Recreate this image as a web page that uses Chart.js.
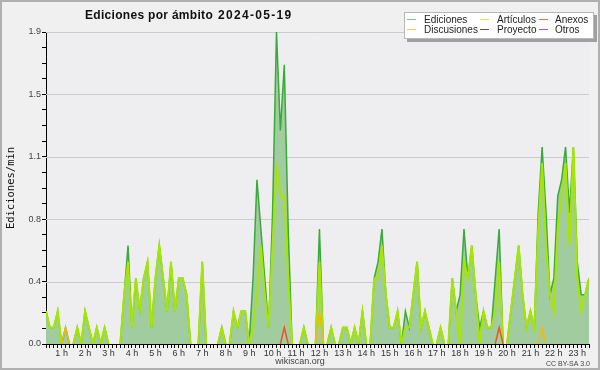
<!DOCTYPE html>
<html>
<head>
<meta charset="utf-8">
<script src="https://cdn.jsdelivr.net/npm/chart.js@4"></script>
<style>
  html, body { margin: 0; padding: 0; background: #f0f0f0; }
  canvas { display: block; }
</style>
</head>
<body>
<canvas id="chart" width="600" height="370"></canvas>
<script>
// samples every 10 minutes, first one at 00:20 (edits per minute)
const startMinute = 20;
const stepMinutes = 10;

const ediciones = [
  0.2, 0.1, 0.1, 0.2, 0.0, 0.1, 0.0, 0.0, 0.1, 0.0,
  0.2, 0.1, 0.0, 0.1, 0.0, 0.1, 0.0, 0.0, 0.0, 0.0,
  0.3, 0.6, 0.1, 0.4, 0.2, 0.4, 0.5, 0.1, 0.4, 0.6,
  0.4, 0.2, 0.5, 0.2, 0.4, 0.4, 0.3, 0.0, 0.0, 0.0,
  0.5, 0.0, 0.0, 0.0, 0.0, 0.1, 0.0, 0.0, 0.2, 0.1,
  0.2, 0.2, 0.0, 0.4, 1.0, 0.7, 0.4, 0.1, 0.8, 1.9,
  1.3, 1.7, 0.7, 0.0, 0.0, 0.0, 0.1, 0.0, 0.0, 0.0,
  0.7, 0.0, 0.0, 0.1, 0.0, 0.0, 0.1, 0.1, 0.0, 0.1,
  0.0, 0.2, 0.0, 0.0, 0.4, 0.5, 0.7, 0.3, 0.1, 0.1,
  0.2, 0.0, 0.2, 0.1, 0.3, 0.5, 0.1, 0.2, 0.1, 0.0,
  0.0, 0.1, 0.0, 0.0, 0.4, 0.2, 0.3, 0.7, 0.4, 0.6,
  0.3, 0.1, 0.2, 0.1, 0.1, 0.4, 0.7, 0.0, 0.0, 0.2,
  0.4, 0.6, 0.3, 0.1, 0.2, 0.1, 0.8, 1.2, 0.8, 0.3,
  0.4, 0.9, 1.0, 1.2, 0.8, 1.2, 0.5, 0.3, 0.3, 0.4
];

const articulos = [
  0.2, 0.1, 0.1, 0.2, 0.0, 0.0, 0.0, 0.0, 0.1, 0.0,
  0.2, 0.1, 0.0, 0.1, 0.0, 0.1, 0.0, 0.0, 0.0, 0.0,
  0.3, 0.5, 0.1, 0.4, 0.2, 0.4, 0.5, 0.1, 0.4, 0.6,
  0.4, 0.2, 0.5, 0.2, 0.4, 0.4, 0.3, 0.0, 0.0, 0.0,
  0.5, 0.0, 0.0, 0.0, 0.0, 0.1, 0.0, 0.0, 0.2, 0.1,
  0.2, 0.2, 0.0, 0.1, 0.3, 0.6, 0.3, 0.1, 0.6, 1.1,
  0.9, 0.9, 0.4, 0.0, 0.0, 0.0, 0.1, 0.0, 0.0, 0.0,
  0.5, 0.0, 0.0, 0.1, 0.0, 0.0, 0.1, 0.1, 0.0, 0.1,
  0.0, 0.2, 0.0, 0.0, 0.4, 0.4, 0.6, 0.3, 0.1, 0.1,
  0.2, 0.0, 0.1, 0.1, 0.3, 0.5, 0.1, 0.2, 0.1, 0.0,
  0.0, 0.1, 0.0, 0.0, 0.4, 0.2, 0.0, 0.5, 0.4, 0.6,
  0.3, 0.0, 0.2, 0.1, 0.1, 0.2, 0.5, 0.0, 0.0, 0.2,
  0.4, 0.6, 0.3, 0.1, 0.2, 0.1, 0.7, 1.1, 0.6, 0.3,
  0.2, 0.7, 0.9, 1.1, 0.6, 1.2, 0.4, 0.2, 0.3, 0.4
];

const anexos = [
  0, 0, 0, 0, 0, 0, 0, 0, 0, 0,
  0, 0, 0, 0, 0, 0, 0, 0, 0, 0,
  0, 0, 0, 0, 0, 0, 0, 0, 0, 0,
  0, 0, 0, 0, 0, 0, 0, 0, 0, 0,
  0, 0, 0, 0, 0, 0, 0, 0, 0, 0,
  0, 0, 0, 0, 0, 0, 0, 0, 0, 0,
  0, 0.1, 0, 0, 0, 0, 0, 0, 0, 0,
  0, 0, 0, 0, 0, 0, 0, 0, 0, 0,
  0, 0, 0, 0, 0, 0, 0, 0, 0, 0,
  0, 0, 0, 0, 0, 0, 0, 0, 0, 0,
  0, 0, 0, 0, 0, 0, 0, 0, 0, 0,
  0, 0, 0, 0, 0, 0, 0.1, 0, 0, 0,
  0, 0, 0, 0, 0, 0, 0, 0, 0, 0,
  0, 0, 0, 0, 0, 0, 0, 0, 0, 0
];

const discusiones = [
  0, 0, 0, 0, 0, 0.1, 0, 0, 0, 0,
  0, 0, 0, 0, 0, 0, 0, 0, 0, 0,
  0, 0, 0, 0, 0, 0, 0, 0, 0, 0,
  0, 0, 0, 0, 0, 0, 0, 0, 0, 0,
  0, 0, 0, 0, 0, 0, 0, 0, 0, 0,
  0, 0, 0, 0, 0, 0, 0, 0, 0, 0,
  0, 0, 0, 0, 0, 0, 0, 0, 0, 0,
  0.2, 0, 0, 0, 0, 0, 0, 0, 0, 0,
  0, 0, 0, 0, 0, 0, 0, 0, 0, 0,
  0, 0, 0, 0, 0, 0, 0, 0, 0, 0,
  0, 0, 0, 0, 0, 0, 0, 0, 0, 0,
  0, 0, 0, 0, 0, 0, 0, 0, 0, 0,
  0, 0, 0, 0, 0, 0, 0, 0.1, 0, 0,
  0, 0, 0, 0, 0, 0, 0, 0, 0, 0
];

const hourLabels = ['1 h', '2 h', '3 h', '4 h', '5 h', '6 h', '7 h', '8 h', '9 h', '10 h', '11 h', '12 h',
  '13 h', '14 h', '15 h', '16 h', '17 h', '18 h', '19 h', '20 h', '21 h', '22 h', '23 h'];
const yMajor = [0, 0.38, 0.76, 1.14, 1.52, 1.9];
const yTickLabels = ['0.0', '0.4', '0.8', '1.1', '1.5', '1.9'];

const legendNames = ['Ediciones', 'Artículos', 'Anexos', 'Discusiones', 'Proyecto', 'Otros'];
const legendColors = ['#7fcc7f', '#ccee55', '#ee7744', '#f0cc44', '#555555', '#9955ee'];

const times = ediciones.map((_, i) => startMinute + i * stepMinutes);
const toPoints = values => values.map((v, i) => ({ x: times[i], y: v }));

// y ticks: majors plus three minor marks in between
const yTicks = [];
yMajor.forEach((v, k) => {
  yTicks.push(v);
  if (k < yMajor.length - 1) {
    const d = (yMajor[k + 1] - v) / 4;
    for (let j = 1; j < 4; j++) yTicks.push(v + d * j);
  }
});
const majorIndex = v => yMajor.findIndex(m => Math.abs(m - v) < 1e-9);

// don't draw flat segments lying on the baseline
const hideZero = { borderColor: c => (c.p0.parsed.y === 0 && c.p1.parsed.y === 0) ? 'rgba(0,0,0,0)' : undefined };

const decor = {
  id: 'decor',
  beforeDraw(chart) {
    const { ctx, chartArea: a } = chart;
    ctx.save();
    ctx.fillStyle = '#f0f0f0';
    ctx.fillRect(0, 0, chart.width, chart.height);
    ctx.fillStyle = '#eeeef0';
    ctx.fillRect(a.left, a.top, a.right - a.left, a.bottom - a.top);
    ctx.strokeStyle = '#b0b0b0';
    ctx.lineWidth = 2;
    ctx.strokeRect(1, 1, chart.width - 2, chart.height - 2);
    ctx.restore();
  },
  beforeDatasetsDraw(chart) {
    const { ctx, chartArea: a, scales } = chart;
    ctx.save();
    ctx.strokeStyle = '#cccccc';
    ctx.lineWidth = 1;
    yMajor.slice(1).forEach(v => {
      const y = Math.round(scales.y.getPixelForValue(v)) + 0.5;
      ctx.beginPath();
      ctx.moveTo(a.left, y);
      ctx.lineTo(a.right, y);
      ctx.stroke();
    });
    ctx.restore();
  },
  afterDraw(chart) {
    const { ctx, chartArea: a } = chart;
    ctx.save();
    // title
    ctx.fillStyle = '#111';
    ctx.font = 'bold 12px "Liberation Sans"';
    ctx.textBaseline = 'alphabetic';
    ctx.letterSpacing = '0.3px';
    ctx.fillText('Ediciones por ámbito', 85, 19);
    ctx.letterSpacing = '1.3px';
    ctx.fillText('2024-05-19', 218, 19);
    ctx.letterSpacing = '0px';

    // y axis title
    ctx.save();
    ctx.translate(14, (a.top + a.bottom) / 2);
    ctx.rotate(-Math.PI / 2);
    ctx.textAlign = 'center';
    ctx.font = '10.5px "DejaVu Sans Mono"';
    ctx.fillStyle = '#111';
    ctx.fillText('Ediciones/min', 0, 0);
    ctx.restore();

    // footer
    ctx.font = '9px "Liberation Sans"';
    ctx.fillStyle = '#444';
    ctx.textAlign = 'center';
    ctx.fillText('wikiscan.org', 300, 364);
    ctx.font = '7px "Liberation Sans"';
    ctx.textAlign = 'right';
    ctx.fillText('CC BY-SA 3.0', 590, 366);

    // legend box
    ctx.fillStyle = '#a0a0a0';
    ctx.fillRect(407, 15, 190, 27);
    ctx.fillStyle = '#ffffff';
    ctx.fillRect(404, 12, 190, 27);
    ctx.strokeStyle = '#b8b8b8';
    ctx.lineWidth = 1;
    ctx.strokeRect(404.5, 12.5, 189, 26);
    const colLine = [407, 480, 539];
    const colText = [424, 497, 555];
    const rowY = [19, 29];
    ctx.font = '10px "Liberation Sans"';
    ctx.textAlign = 'left';
    legendNames.forEach((name, k) => {
      const c = k % 3, r = Math.floor(k / 3);
      ctx.strokeStyle = legendColors[k];
      ctx.beginPath();
      ctx.moveTo(colLine[c], rowY[r] + 0.5);
      ctx.lineTo(colLine[c] + 9, rowY[r] + 0.5);
      ctx.stroke();
      ctx.fillStyle = '#222';
      ctx.fillText(name, colText[c], rowY[r] + 3.5);
    });
    ctx.restore();
  }
};

new Chart(document.getElementById('chart'), {
  type: 'line',
  data: {
    datasets: [
      { label: 'Discusiones', data: toPoints(discusiones), borderColor: '#eebb11', borderWidth: 1.5, order: 0, segment: hideZero },
      { label: 'Anexos', data: toPoints(anexos), borderColor: '#ee5522', borderWidth: 1.5, order: 0, segment: hideZero },
      { label: 'Artículos', data: toPoints(articulos), borderColor: '#a6e600', borderWidth: 2, order: 1, segment: hideZero },
      { label: 'Ediciones', data: toPoints(ediciones), borderColor: '#3aaa3a', borderWidth: 1.5,
        backgroundColor: '#a0cca0', fill: 'origin', order: 2, segment: hideZero }
    ]
  },
  options: {
    responsive: false,
    animation: false,
    devicePixelRatio: 1,
    layout: { padding: { top: 32, right: 11, bottom: 0, left: 0 } },
    elements: { point: { radius: 0 }, line: { tension: 0 } },
    plugins: { legend: { display: false }, tooltip: { enabled: false } },
    scales: {
      x: {
        type: 'linear',
        min: startMinute,
        max: times[times.length - 1],
        z: 1,
        afterFit: s => { s.height = 26; },
        border: { color: '#000', width: 1 },
        grid: { drawOnChartArea: false, tickLength: 4, color: '#000' },
        ticks: {
          stepSize: stepMinutes,
          autoSkip: false,
          maxRotation: 0,
          maxTicksLimit: 500,
          padding: 0,
          color: '#333',
          font: { family: 'Liberation Sans', size: 9 },
          callback: v => (v % 60 === 0 ? hourLabels[v / 60 - 1] : '')
        }
      },
      y: {
        min: 0,
        max: 1.9,
        z: 1,
        afterFit: s => { s.width = 46; },
        afterBuildTicks: s => { s.ticks = yTicks.map(v => ({ value: v })); },
        border: { color: '#000', width: 1 },
        grid: { drawOnChartArea: false, tickLength: 4, color: '#000' },
        ticks: {
          autoSkip: false,
          padding: 1,
          color: '#444',
          font: { family: 'Liberation Sans', size: 9 },
          callback: v => { const k = majorIndex(v); return k >= 0 ? yTickLabels[k] : ''; }
        }
      }
    }
  },
  plugins: [decor]
});
</script>
</body>
</html>
